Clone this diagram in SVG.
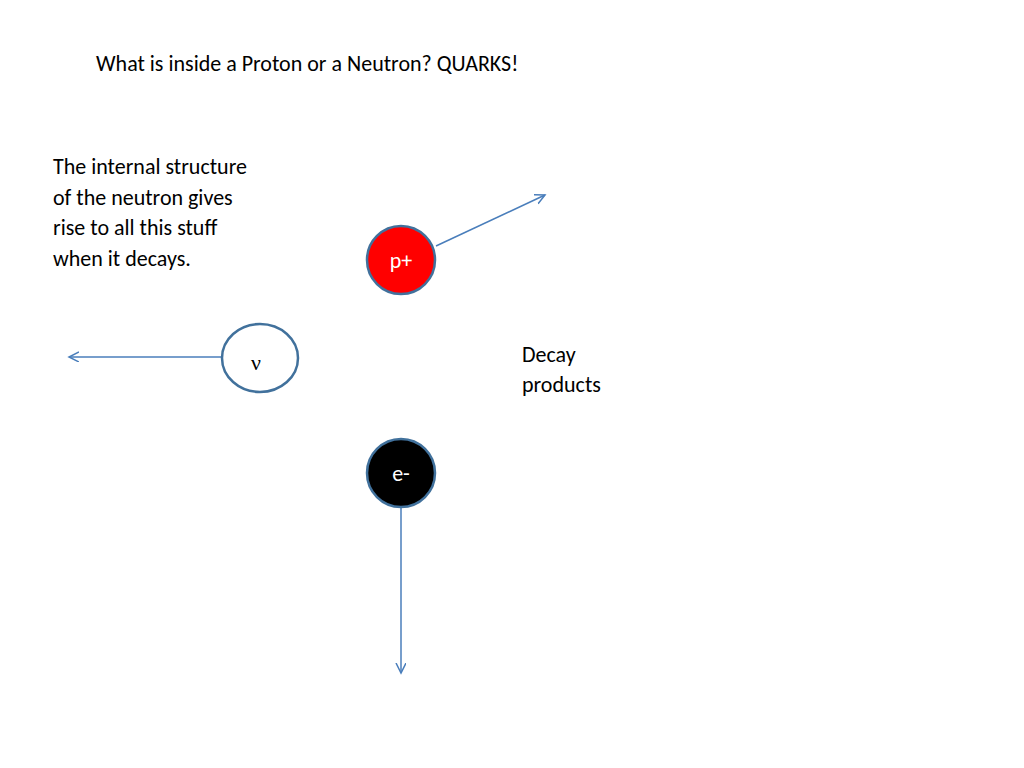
<svg xmlns="http://www.w3.org/2000/svg" width="1024" height="768" viewBox="0 0 1024 768">
<style>
text{font-family:Calibri,"Liberation Sans",sans-serif;font-size:22px;fill:#000}
.c{stroke:#41719c;stroke-width:2.5}
.l{stroke:#4a7ebb;stroke-width:1.5;fill:none}
</style>
<defs><marker id="a" markerWidth="12" markerHeight="12" refX="10" refY="5" orient="auto" markerUnits="userSpaceOnUse"><path d="M0,0 L10,5 L0,10" fill="none" stroke="#4a7ebb" stroke-width="1.5"/></marker></defs>
<rect width="1024" height="768" fill="#fff"/>
<text x="96" y="71">What is inside a Proton or a Neutron?  QUARKS!</text>
<text x="53" y="174">The internal structure</text>
<text x="53" y="205">of the neutron gives</text>
<text x="53" y="235">rise to all this stuff</text>
<text x="53" y="266">when it decays.</text>
<text x="522" y="362">Decay</text>
<text x="522" y="392">products</text>
<g id="connectors">
<line class="l" x1="436" y1="246" x2="545" y2="195" marker-end="url(#a)"/>
<line class="l" x1="221" y1="357" x2="69" y2="357" marker-end="url(#a)"/>
<line class="l" x1="401" y1="504" x2="401" y2="673" marker-end="url(#a)"/>
</g>
<g id="proton"><circle class="c" cx="401" cy="260" r="34" fill="#f00"/><text x="401" y="268" text-anchor="middle" font-size="20" fill="#fff" style="fill:#fff">p+</text></g>
<g id="neutrino"><ellipse class="c" cx="260" cy="358" rx="38" ry="34" fill="#fff"/><text x="256" y="370" text-anchor="middle" font-family="Liberation Serif,serif" style="font-family:'Liberation Serif',serif">ν</text></g>
<g id="electron"><circle class="c" cx="401" cy="473" r="34" fill="#000"/><text x="401" y="481" text-anchor="middle" font-size="20" style="fill:#fff">e-</text></g>
</svg>
